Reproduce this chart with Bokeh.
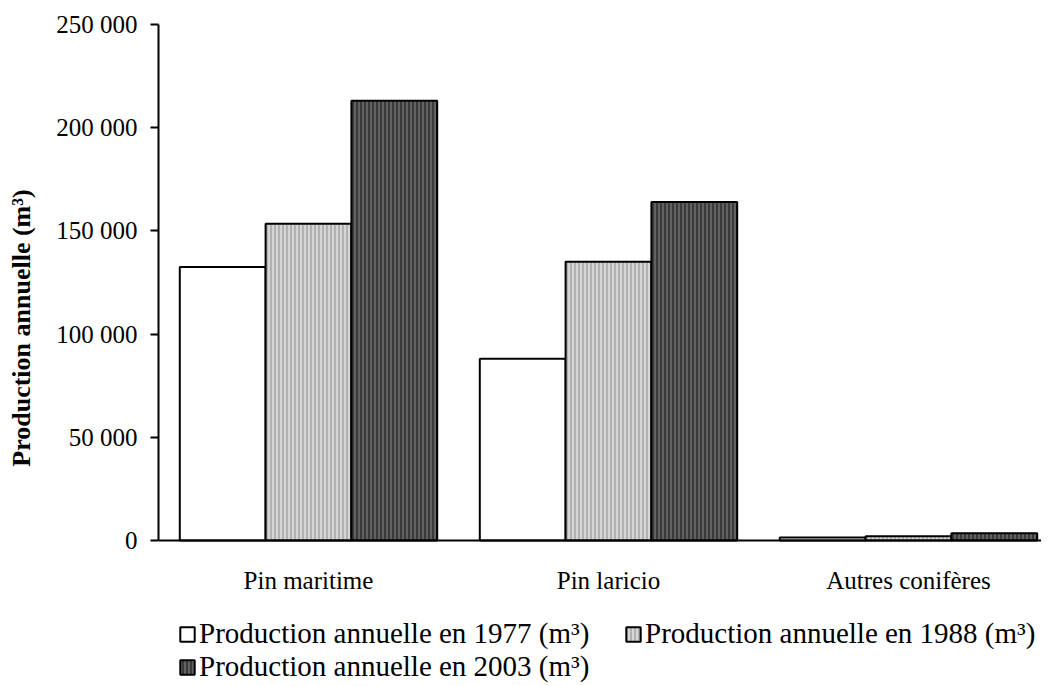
from bokeh.plotting import figure
from bokeh.models import (ColumnDataSource, Range1d, FixedTicker, Legend, LegendItem)
from bokeh.transform import dodge
from bokeh.embed import file_html
from bokeh.resources import INLINE

categories = ["Pin maritime", "Pin laricio", "Autres conifères"]
v1977 = [132500, 88000, 1500]
v1988 = [153500, 135000, 2000]
v2003 = [213000, 164000, 3500]
series_labels = ["Production annuelle en 1977 (m³)",
                 "Production annuelle en 1988 (m³)",
                 "Production annuelle en 2003 (m³)"]
y_ticks = [0, 50000, 100000, 150000, 200000, 250000]
y_title = "Production annuelle (m³)"

FONT = "Liberation Serif"

# layout (pixels): the frame reaches the bottom of the canvas so that the
# legend can sit inside it; the value axis spans 0..250 000 above the x axis
W, H = 1041, 683
FRAME_LEFT, FRAME_TOP, ZERO_PX = 158, 24, 540
Y_MAX = 250000
y_start = -Y_MAX * (H - ZERO_PX) / (ZERO_PX - FRAME_TOP)
x_end = (W - FRAME_LEFT) / 300.0

xpos = [i + 0.5 for i in range(len(categories))]
src = ColumnDataSource(dict(x=xpos, cat=categories, a=v1977, b=v1988, c=v2003))

p = figure(width=W, height=H, output_backend="svg", toolbar_location=None,
           x_range=Range1d(0, x_end), y_range=Range1d(y_start, Y_MAX),
           min_border_left=FRAME_LEFT, min_border_top=FRAME_TOP, min_border_right=0,
           min_border_bottom=0)
p.outline_line_color = None
p.xgrid.visible = False
p.ygrid.visible = False

bw = 0.286
common = dict(source=src, width=bw, line_color="black", line_width=2)
r1 = p.vbar(x=dodge("x", -bw, range=p.x_range), top="a", fill_color="white", **common)
r2 = p.vbar(x=dodge("x", 0, range=p.x_range), top="b", fill_color="#d6d6d6",
            hatch_pattern="|", hatch_color="#8c8c8c", hatch_scale=4, hatch_weight=1, **common)
r3 = p.vbar(x=dodge("x", bw, range=p.x_range), top="c", fill_color="#3a3a3a",
            hatch_pattern="|", hatch_color="#8a8a8a", hatch_scale=4, hatch_weight=1, **common)

# x axis, drawn at value 0
p.xaxis.fixed_location = 0
p.xaxis.ticker = FixedTicker(ticks=xpos)
p.xaxis.major_label_overrides = {x: c for x, c in zip(xpos, categories)}
p.xaxis.major_tick_out = 0
p.xaxis.major_tick_in = 0
p.xaxis.minor_tick_line_color = None
p.xaxis.axis_line_color = "black"
p.xaxis.axis_line_width = 2
p.xaxis.major_label_text_font = FONT
p.xaxis.major_label_text_font_size = "25px"
p.xaxis.major_label_text_color = "black"
p.xaxis.major_label_standoff = 26

# y axis
p.yaxis.bounds = (0, Y_MAX)
p.yaxis.ticker = FixedTicker(ticks=y_ticks)
p.yaxis.major_label_overrides = {t: f"{t:,}".replace(",", " ") for t in y_ticks}
p.yaxis.major_tick_out = 8
p.yaxis.major_tick_in = 0
p.yaxis.major_tick_line_width = 2
p.yaxis.major_tick_line_color = "black"
p.yaxis.minor_tick_line_color = None
p.yaxis.axis_line_color = "black"
p.yaxis.axis_line_width = 2
p.yaxis.major_label_text_font = FONT
p.yaxis.major_label_text_font_size = "25px"
p.yaxis.major_label_text_color = "black"
p.yaxis.major_label_standoff = 13
# leading non-breaking spaces lift the rotated title to where the reference has it
p.yaxis.axis_label = "\u00a0" * 8 + y_title
p.yaxis.axis_label_text_font = FONT
p.yaxis.axis_label_text_font_size = "26px"
p.yaxis.axis_label_text_font_style = "bold"
p.yaxis.axis_label_text_color = "black"
p.yaxis.axis_label_standoff = 17

legend = Legend(items=[LegendItem(label=series_labels[0], renderers=[r1]),
                       LegendItem(label=series_labels[1], renderers=[r2]),
                       LegendItem(label=series_labels[2], renderers=[r3])],
                orientation="horizontal", ncols=2, location=(20, 0),
                label_text_font=FONT, label_text_font_size="29px",
                label_text_color="black", label_width=425,
                glyph_width=18, glyph_height=18, label_standoff=3,
                spacing=0, padding=0, margin=0,
                border_line_alpha=0, background_fill_alpha=0)
p.add_layout(legend)

open("out.html", "w").write(file_html(p, INLINE))
